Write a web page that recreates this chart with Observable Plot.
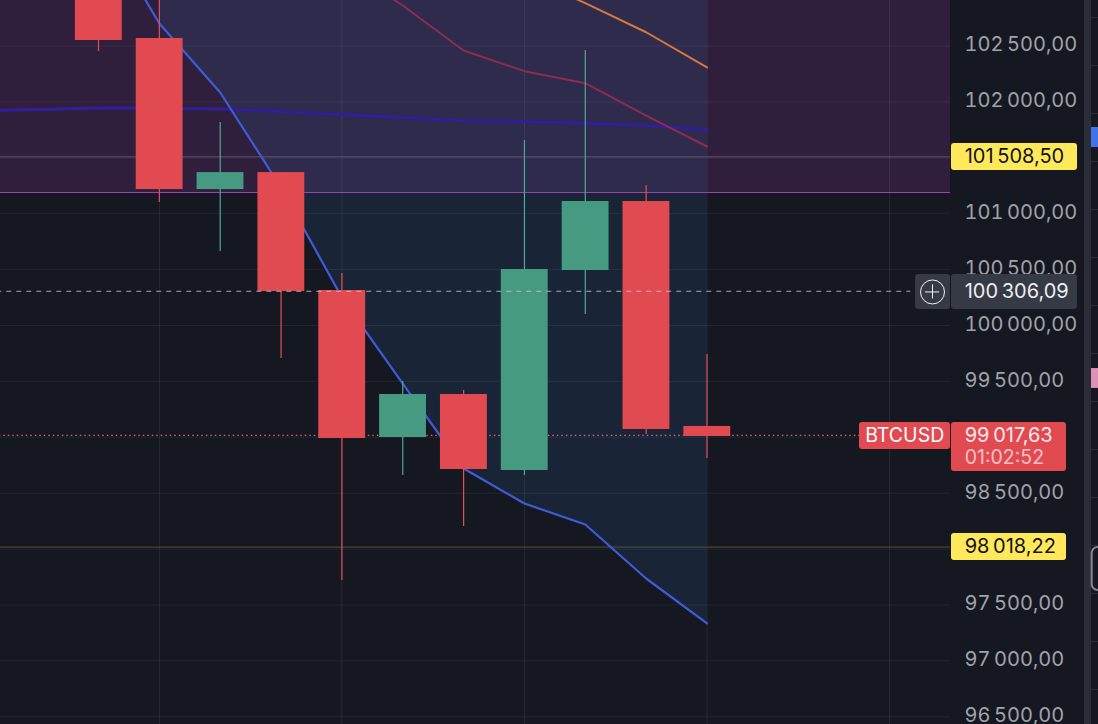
<!DOCTYPE html>
<html>
<head>
<meta charset="utf-8">
<script src="https://cdn.jsdelivr.net/npm/d3@7"></script>
<script src="https://cdn.jsdelivr.net/npm/@observablehq/plot@0.6"></script>
<style>
html,body{margin:0;padding:0;background:#161821;overflow:hidden}
svg{display:block}
</style>
</head>
<body>
<div id="chart"></div>
<script>
// Candles (bar index 0..10), prices
const bars   = [0,1,2,3,4,5,6,7,8,9,10];
const opens  = [103100,102567,101216,101368,100313,98998,99383,98703,100492,101109,99097];
const closes = [102549,101216,101368,100304,98989,99383,98712,100501,101109,99070,99007];
const highs  = [103250,103000,101816,101368,100465,99499,99419,101655,102460,101252,99741];
const lows   = [102451,101100,100662,99705,97719,98658,98202,98658,100098,99025,98810];

// Moving averages
const maBlueX = [0,1,2,3,4,5,6,7,8,9,10];
const maBlueY = [103622,102701,102084,101234,100250,99481,98721,98408,98220,97737,97335];
const maIndigoX = [-2,-1,0,1,2,3,4,5,6,7,8,9,10];
const maIndigoY = [101923,101932,101945,101944,101937,101914,101887,101860,101829,101825,101810,101789,101753];
const maMaroonX = [4,5,6,7,8,9,10];
const maMaroonY = [103220,102862,102460,102275,102167,101878,101601];
const maOrangeX = [7,8,9,10];
const maOrangeY = [103130,102883,102623,102308];

// Levels and axis
const priceTicks = [96500,97000,97500,98000,98500,99000,99500,100000,100500,101000,101500,102000,102500];
const tickLabels = [96500,97000,97500,98500,99500,100000,100500,101000,102000,102500];
const gridBars = [1,4,7,10,13];
const levelHigh = 101508.50, levelLow = 98018.22, crosshair = 100306.09, lastPrice = 99017.63;
const zoneBottom = 101190;
const symbolName = "BTCUSD", countdown = "01:02:52";
const sideGrid = [102755,102325,101896,101467,101038,100608,100179,99750,99320,98891,98462,98033,97603,97174,96745];

const price = d3.formatLocale({decimal:",",thousands:"\u2009",grouping:[3],currency:["",""]}).format(",.2f");
const candles = bars.map((b,i)=>({b,o:opens[i],c:closes[i],h:highs[i],l:lows[i],up:closes[i]>opens[i]}));
const blue = maBlueX.map((x,i)=>({x,y:maBlueY[i]}));
const line = (xs,ys,stroke,strokeWidth)=>Plot.line(xs.map((x,i)=>({x,y:ys[i]})),{x:"x",y:"y",stroke,strokeWidth});

const RED="#e24a52", GREEN="#469a82", FONT="Inter, 'Liberation Sans', sans-serif";
const box=(x1,x2,y1,y2,fill,extra={})=>Plot.rect([{}],{x1:()=>x1,x2:()=>x2,y1:()=>y1,y2:()=>y2,fill,...extra});
const label=(x,y,text,fill,fontSize=20)=>Plot.text([text],{x:()=>x,y:()=>y,text:d=>d,fill,fontSize,textAnchor:"start",fontFamily:FONT});

const chart = Plot.plot({
  width:1098, height:724,
  marginLeft:0, marginRight:148, marginTop:0, marginBottom:0,
  style:{background:"#161821",fontFamily:FONT},
  x:{type:"linear",domain:[-1.6105,14.0016],axis:null},
  y:{domain:[96431.13,102906.98],range:[724,0],axis:null},
  marks:[
    // purple zone
    box(-2,14.002,zoneBottom,103000,"#2f1f3c"),
    // tinted cloud above the fast average
    Plot.areaY(blue.slice(1),{x:"x",y1:"y",y2:()=>103600,fill:"#2d6eaa",fillOpacity:0.155}),
    // grid
    Plot.ruleY(priceTicks,{x1:-2,x2:14.002,stroke:"#fff",strokeOpacity:0.06}),
    Plot.ruleX(gridBars,{stroke:"#fff",strokeOpacity:0.075}),
    // levels
    Plot.ruleY([zoneBottom],{x1:-2,x2:14.002,stroke:"#a840bc",strokeWidth:1}),
    Plot.ruleY([levelHigh],{x1:-2,x2:14.002,stroke:"#6b566f",strokeWidth:0.9}),
    Plot.ruleY([levelLow],{x1:-2,x2:14.002,stroke:"#5a573c",strokeWidth:0.9}),
    Plot.ruleY([lastPrice],{x1:-2,x2:12.506,stroke:"#e8607a",strokeWidth:1.2,strokeDasharray:"1.5 3"}),
    // averages
    line(maIndigoX,maIndigoY,"#2f1f9c",3),
    line(maMaroonX,maMaroonY,"#8e2b50",2),
    line(maOrangeX,maOrangeY,"#d9773f",2),
    line(maBlueX,maBlueY,"#3f5bd8",2.2),
    // candles
    Plot.ruleX(candles,{x:"b",y1:"l",y2:"h",stroke:d=>d.up?"#4fa79a":"#e0505a",strokeWidth:1.2}),
    Plot.rect(candles,{x1:d=>d.b-0.38,x2:d=>d.b+0.39,y1:"o",y2:"c",fill:d=>d.up?GREEN:RED}),
    Plot.ruleY([crosshair],{x1:-2,x2:13.35,stroke:"#c9ccd4",strokeOpacity:0.8,strokeDasharray:"5 5"}),
    // axis
    Plot.axisY(tickLabels,{anchor:"right",tickSize:0,tickPadding:14,tickFormat:price,fontSize:20,fill:"#a0a3ab",dy:-1,label:null,fontFamily:FONT}),
    // right strip
    box(16.204,16.319,96431,102907,"#2b2d38"),
    Plot.ruleY(sideGrid,{x1:16.319,x2:16.5,stroke:"#2a2c35"}),
    box(16.319,16.6,101771,101592,"#3f74e8"),
    box(16.319,16.6,99615,99437,"#e08fb5"),
    box(16.33,16.7,98014,97630,"none",{stroke:"#83868f",strokeWidth:2,r:6}),
    // price tags
    box(14.018,16.089,101628,101386,"#ffe95a",{r:3}),
    label(14.235,levelHigh,price(levelHigh),"#111319"),
    box(14.018,15.908,98140,97898,"#ffe95a",{r:3}),
    label(14.235,levelLow,price(levelLow),"#111319"),
    box(13.427,14.002,100456,100143,"#363a45",{r:3}),
    box(14.018,16.089,100456,100143,"#363a45",{r:3}),
    Plot.dot([{}],{x:()=>13.706,y:()=>100300,r:12,stroke:"#f2f3f5",fill:"none",strokeWidth:1}),
    Plot.ruleY([100300],{x1:13.59,x2:13.822,stroke:"#f2f3f5"}),
    Plot.ruleX([13.706],{y1:100237,y2:100363,stroke:"#f2f3f5"}),
    label(14.235,100300,price(crosshair),"#eceef1"),
    box(12.506,14.002,99132,98891,RED,{r:3}),
    label(12.6,99010,symbolName,"#fff",19.5),
    box(14.018,15.908,99132,98694,RED,{r:3}),
    label(14.235,99017,price(lastPrice),"#fbe9ea"),
    label(14.235,98819,countdown,"#f5c2c5",19.5)
  ]
});
document.getElementById("chart").append(chart);
</script>
</body>
</html>
